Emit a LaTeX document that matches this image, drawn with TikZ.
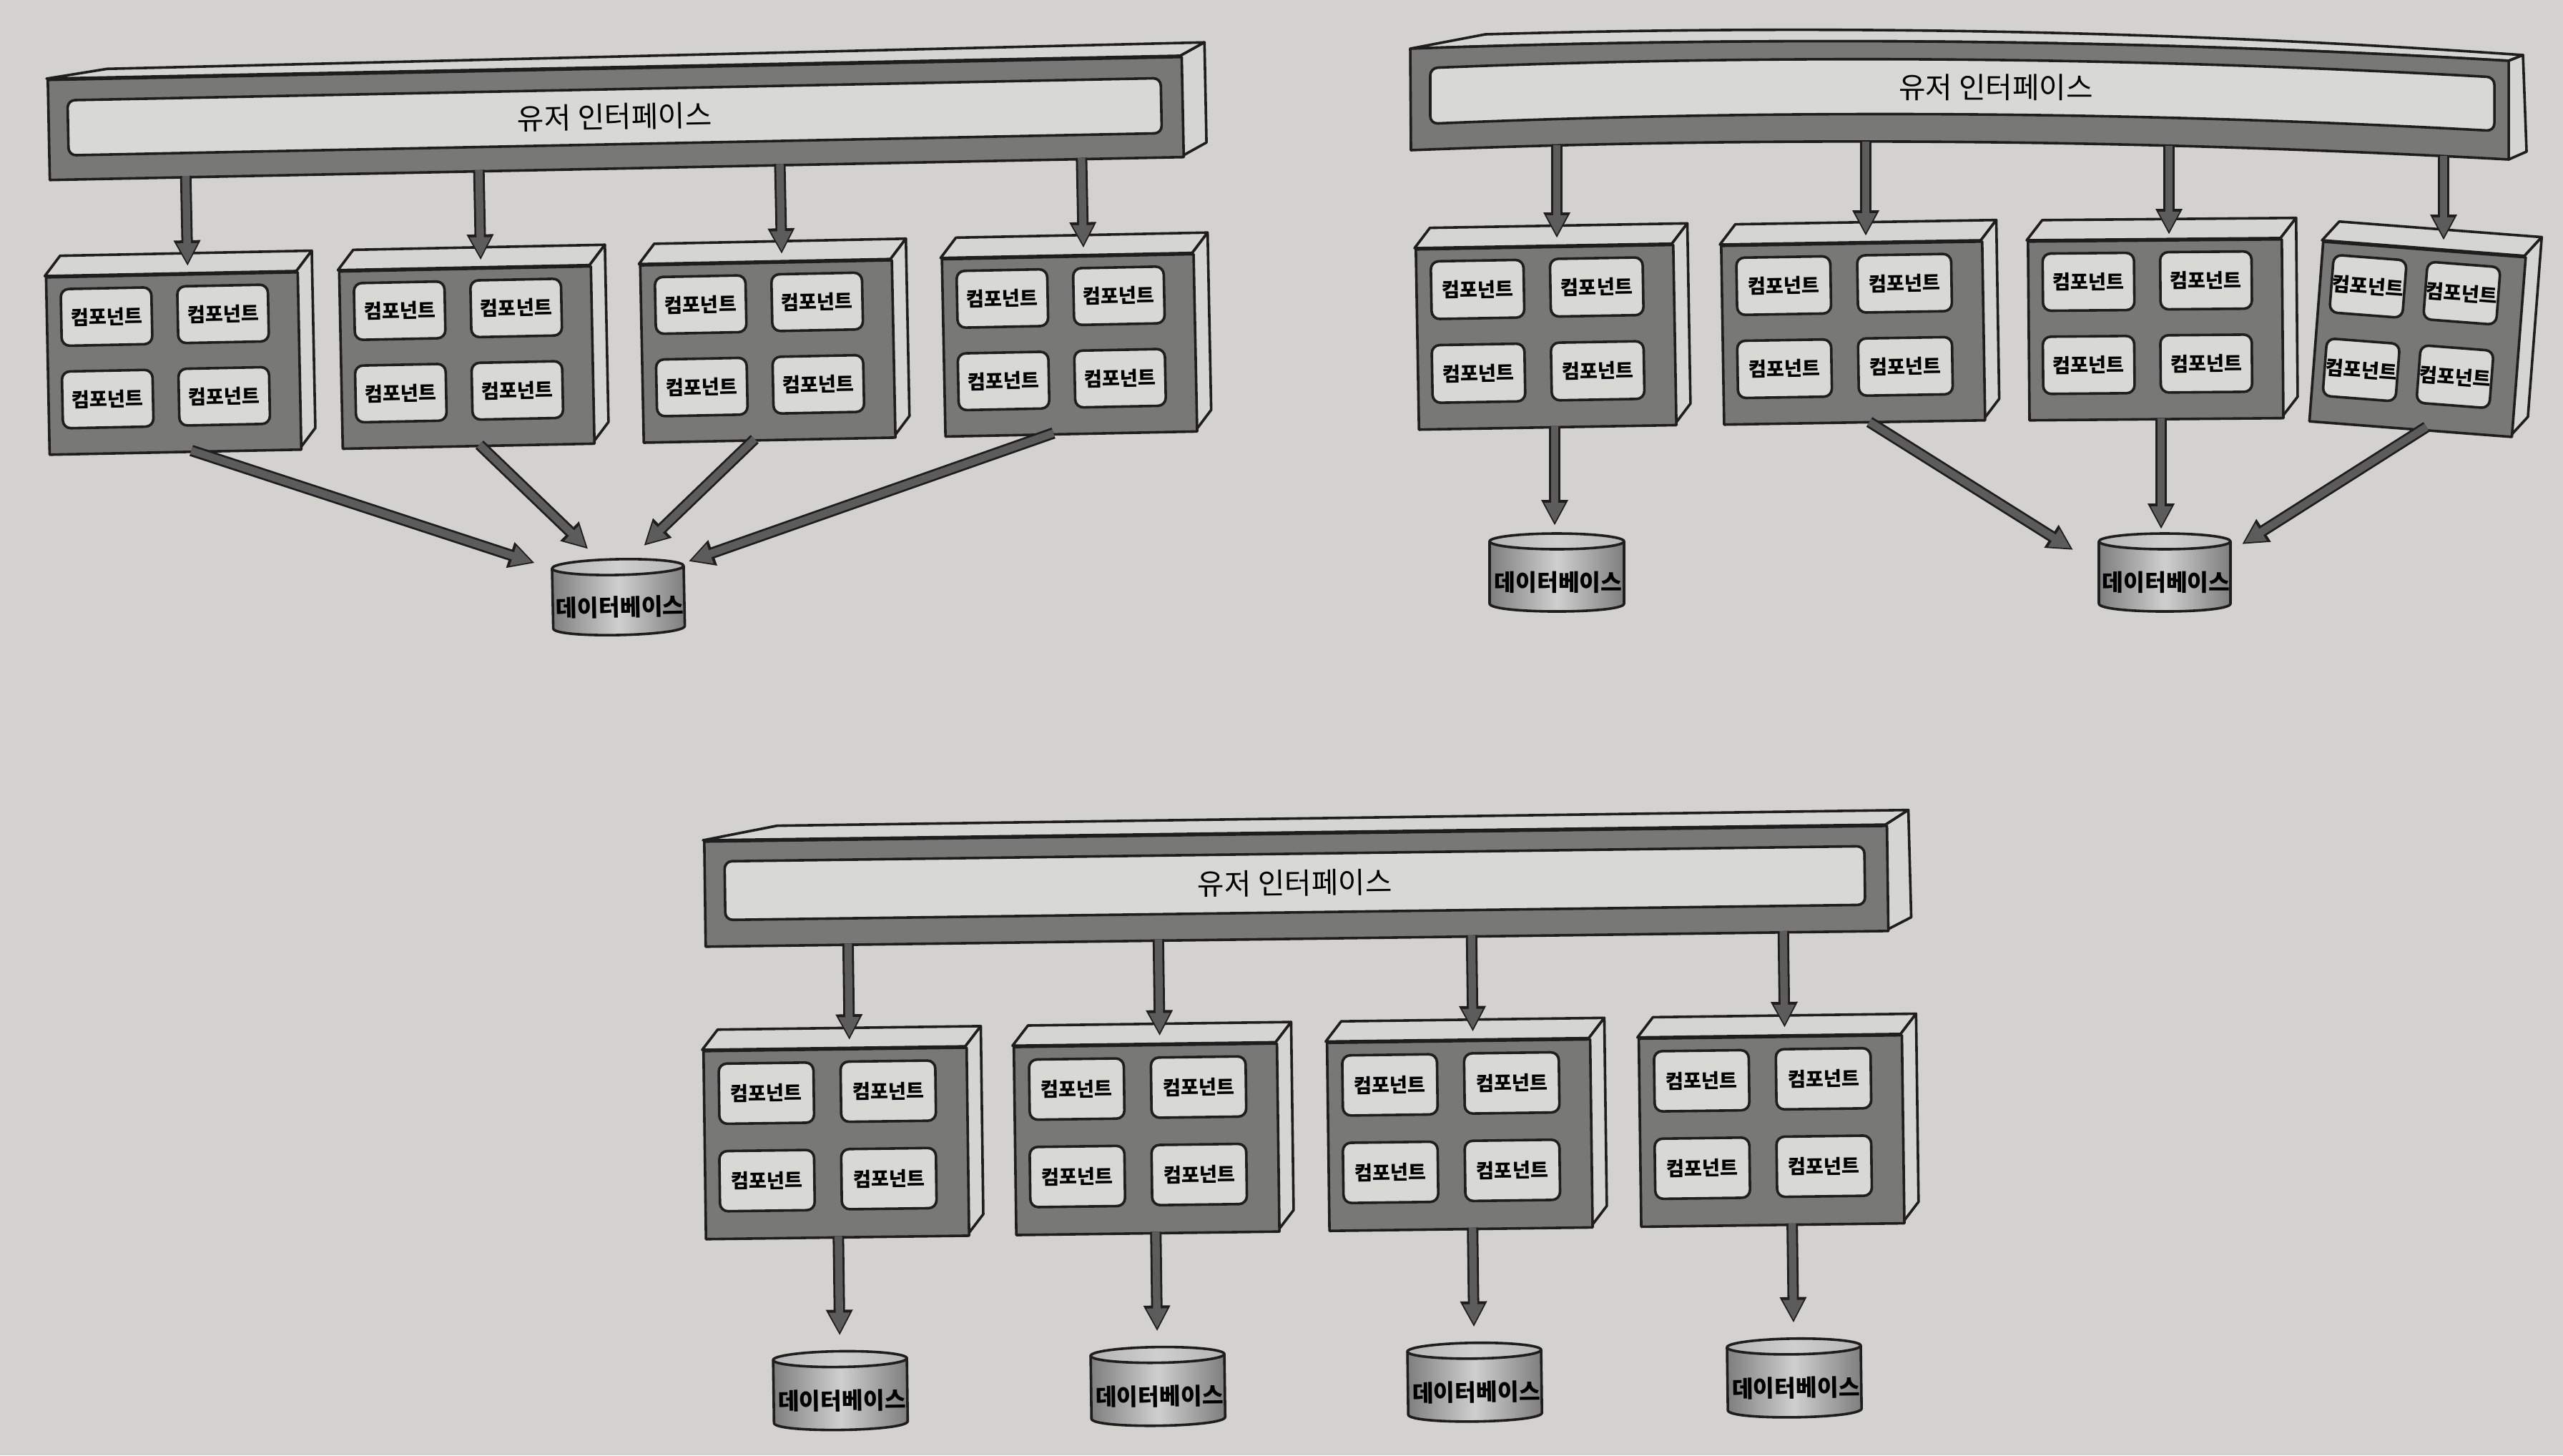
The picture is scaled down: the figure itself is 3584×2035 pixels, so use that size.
\documentclass[tikz,border=0pt]{standalone}
\usepackage{fontspec}
\newfontfamily\krfont{Noto Sans CJK KR}
\usetikzlibrary{arrows.meta}
\definecolor{bg}{HTML}{D3D2CE}
\definecolor{dface}{HTML}{787877}
\definecolor{lface}{HTML}{D5D5D2}
\definecolor{compc}{HTML}{D8D8D5}
\definecolor{edge}{HTML}{1E1E1E}
\definecolor{arrg}{HTML}{5C5C5C}
\definecolor{dbdark}{HTML}{7E7E7E}
\definecolor{dblight}{HTML}{CFCFCF}
\definecolor{dbtop}{HTML}{B4B4B4}
\newcommand\cfont{\krfont\bfseries\fontsize{6.8pt}{7pt}\selectfont}
\newcommand\uifont{\krfont\fontsize{10.2pt}{11pt}\selectfont}
\newcommand\dbfont{\krfont\bfseries\fontsize{8.1pt}{9pt}\selectfont}
\tikzset{
  outl/.style={draw=edge, line width=0.9pt, line join=round},
  topf/.style={outl, fill=lface},
  frontf/.style={outl, fill=dface, inner sep=0pt},
  comp/.style={outl, fill=compc, rounded corners=2.8pt, inner sep=0pt, font=\cfont},
  innerbar/.style={outl, fill=compc, rounded corners=2.6pt, inner sep=0pt, font=\uifont},
  uitext/.style={font=\uifont, inner sep=0pt},
  dbtext/.style={font=\dbfont, inner sep=0pt},
  arrout/.style={draw=edge, line width=4.0pt, -{Triangle[width=8.8pt,length=9pt]}},
  arrin/.style={draw=arrg, line width=2.6pt, shorten >=1.0pt, -{Triangle[width=6.8pt,length=7pt]}},
}
% box with four components: #1 name, #2 x, #3 y (front top-left), #4 width, #5 height
\newcommand\mkbox[5]{%
  \filldraw[topf] (#2,#3) -- ({#2+22},{#3-28}) -- ({#2+#4+22},{#3-28}) -- ({#2+#4},#3) -- cycle;
  \filldraw[topf] ({#2+#4},#3) -- ({#2+#4+22},{#3-28}) -- ({#2+#4+22},{#3+#5-28}) -- ({#2+#4},{#3+#5}) -- cycle;
  \node[frontf, minimum width={#4*0.25pt}, minimum height={#5*0.25pt}, anchor=north west] (#1) at (#2,#3) {};
  \foreach \ci/\fx/\fy in {1/0.057/0.068, 2/0.52/0.066, 3/0.055/0.533, 4/0.518/0.531}{
    \node[comp, minimum width={0.36*#4*0.25pt}, minimum height={0.32*#5*0.25pt}, anchor=north west]
      (#1-c\ci) at ({#2+\fx*#4},{#3+\fy*#5}) {컴포넌트};
  }%
}
% database: #1 name, #2 centre x, #3 top y, #4 width, #5 height
\newcommand\mkdb[5]{%
  \path[outl, left color=dbdark, right color=dbdark, middle color=dblight]
    ({#2-#4/2},{#3+11}) -- ({#2-#4/2},{#3+#5-11})
    .. controls ({#2-#4/2},{#3+#5+3.7}) and ({#2+#4/2},{#3+#5+3.7}) .. ({#2+#4/2},{#3+#5-11})
    -- ({#2+#4/2},{#3+11}) -- cycle;
  \path[outl, left color=dbtop, right color=dbtop, middle color=dblight] ({#2},{#3+11}) ellipse [x radius={#4/2}, y radius=11];
  \node[dbtext] (#1) at ({#2+2},{#3+#5/2+14}) {데이터베이스};
}
\newcommand\fatarrow[2]{%
  \draw[arrout] (#1) -- (#2);
  \draw[arrin] (#1) -- (#2);
}
\begin{document}
\begin{tikzpicture}[x=0.25pt, y=-0.25pt]
\useasboundingbox (0,0) rectangle (3584,2035);
\fill[bg] (0,0) rectangle (3584,2035);

%================ top-left diagram =================
\begin{scope}[shift={(65,110)}, rotate=1.16, transform shape]
  \filldraw[topf] (0,0) -- (85,-12) -- (1620,-18) -- (1586,0) -- cycle;
  \filldraw[topf] (1586,0) -- (1620,-18) -- (1620,122) -- (1586,140) -- cycle;
  \node[frontf, minimum width={1586*0.25pt}, minimum height={140*0.25pt}, anchor=north west] (tl-ui) at (0,0) {};
  \node[innerbar, minimum width={1529*0.25pt}, minimum height={77*0.25pt}, anchor=north west] (tl-uiin) at (27,29) {유저 인터페이스};
  \mkbox{tl-b1}{-8}{276}{352}{248}
  \mkbox{tl-b2}{402}{276}{352}{248}
  \mkbox{tl-b3}{823}{276}{352}{248}
  \mkbox{tl-b4}{1245}{276}{352}{248}
  \mkdb{tl-db}{785}{688}{184}{106}
  \foreach \k/\ax in {1/192, 2/602, 3/1023, 4/1445}{
    \coordinate (tl-us\k) at (\ax,140);
    \coordinate (tl-ut\k) at (\ax,266);
    \fatarrow{tl-us\k}{tl-ut\k}
  }
  \coordinate (tl-ds1) at (192,524); \coordinate (tl-dt1) at (669,691);
  \coordinate (tl-ds2) at (595,524); \coordinate (tl-dt2) at (744,673);
  \coordinate (tl-ds3) at (980,524); \coordinate (tl-dt3) at (822,670);
  \coordinate (tl-ds4) at (1398,524); \coordinate (tl-dt4) at (884,693);
  \foreach \k in {1,2,3,4}{ \fatarrow{tl-ds\k}{tl-dt\k} }
\end{scope}

%================ top-right diagram =================
\filldraw[topf] (1972,68) -- (2077,48) .. controls (2561,34) and (3044,43) .. (3528,77) -- (3508,85)
  .. controls (2996,55) and (2484,50) .. (1972,68) -- cycle;
\filldraw[topf] (3508,85) -- (3528,77) -- (3533,212) -- (3508,223) -- cycle;
\filldraw[frontf] (1972,68) .. controls (2484,50) and (2996,55) .. (3508,85) -- (3508,223)
  .. controls (2996,195) and (2485,190) .. (1973,210) -- cycle;
\filldraw[outl, fill=compc, rounded corners=2.6pt] (2000,95) .. controls (2496,75) and (2992,80) .. (3488,108)
  -- (3488,183) .. controls (2992,156) and (2496,152) .. (2000,173) -- cycle;
\node[uitext] (tr-uitxt) at (2791,122) {유저 인터페이스};
\begin{scope}[shift={(1978,347)}, rotate=1.0, transform shape]
  \mkbox{tr-b1}{0}{0}{360}{252}
\end{scope}
\begin{scope}[shift={(2405,342)}, rotate=0.94, transform shape]
  \mkbox{tr-b2}{0}{0}{365}{250}
\end{scope}
\begin{scope}[shift={(2834,336)}, rotate=0.5, transform shape]
  \mkbox{tr-b3}{0}{0}{355}{250}
\end{scope}
\begin{scope}[shift={(3247,336)}, rotate=-4.4, transform shape]
  \mkbox{tr-b4}{0}{0}{284}{252}
\end{scope}
\mkdb{tr-db1}{2177}{746}{188}{109}
\mkdb{tr-db2}{3027}{746}{184}{109}
\coordinate (tr-us1) at (2177,203); \coordinate (tr-ut1) at (2177,333);
\coordinate (tr-us2) at (2609,198); \coordinate (tr-ut2) at (2609,330);
\coordinate (tr-us3) at (3033,204); \coordinate (tr-ut3) at (3033,328);
\coordinate (tr-us4) at (3417,218); \coordinate (tr-ut4) at (3417,336);
\coordinate (tr-ds1) at (2174,596); \coordinate (tr-dt1) at (2174,735);
\coordinate (tr-ds2) at (2614,590); \coordinate (tr-dt2) at (2899,769);
\coordinate (tr-ds3) at (3022,585); \coordinate (tr-dt3) at (3022,740);
\coordinate (tr-ds4) at (3393,597); \coordinate (tr-dt4) at (3135,761);
\foreach \k in {1,2,3,4}{ \fatarrow{tr-us\k}{tr-ut\k} \fatarrow{tr-ds\k}{tr-dt\k} }

%================ bottom diagram =================
\begin{scope}[shift={(983,1175)}, rotate=0.76, transform shape]
  \filldraw[topf] (0,0) -- (104,-19) -- (1686,-20) -- (1654,0) -- cycle;
  \filldraw[topf] (1654,0) -- (1686,-20) -- (1688,130) -- (1654,147) -- cycle;
  \node[frontf, minimum width={1654*0.25pt}, minimum height={147*0.25pt}, anchor=north west] (bt-ui) at (0,0) {};
  \node[innerbar, minimum width={1594*0.25pt}, minimum height={82*0.25pt}, anchor=north west] (bt-uiin) at (28,28) {유저 인터페이스};
  \mkbox{bt-b1}{-5}{293}{368}{263}
  \mkbox{bt-b2}{429}{293}{368}{263}
  \mkbox{bt-b3}{867}{293}{368}{263}
  \mkbox{bt-b4}{1303}{293}{368}{263}
  \mkdb{bt-db1}{182}{717}{187}{110}
  \mkdb{bt-db2}{626}{717}{187}{110}
  \mkdb{bt-db3}{1069}{717}{187}{110}
  \mkdb{bt-db4}{1516}{717}{187}{110}
  \foreach \k/\ax/\dx in {1/201/182, 2/635/626, 3/1073/1069, 4/1509/1516}{
    \coordinate (bt-us\k) at (\ax,147);
    \coordinate (bt-ut\k) at (\ax,282);
    \coordinate (bt-ds\k) at (\dx,556);
    \coordinate (bt-dt\k) at (\dx,695);
    \fatarrow{bt-us\k}{bt-ut\k}
    \fatarrow{bt-ds\k}{bt-dt\k}
  }
\end{scope}
\end{tikzpicture}
\end{document}
